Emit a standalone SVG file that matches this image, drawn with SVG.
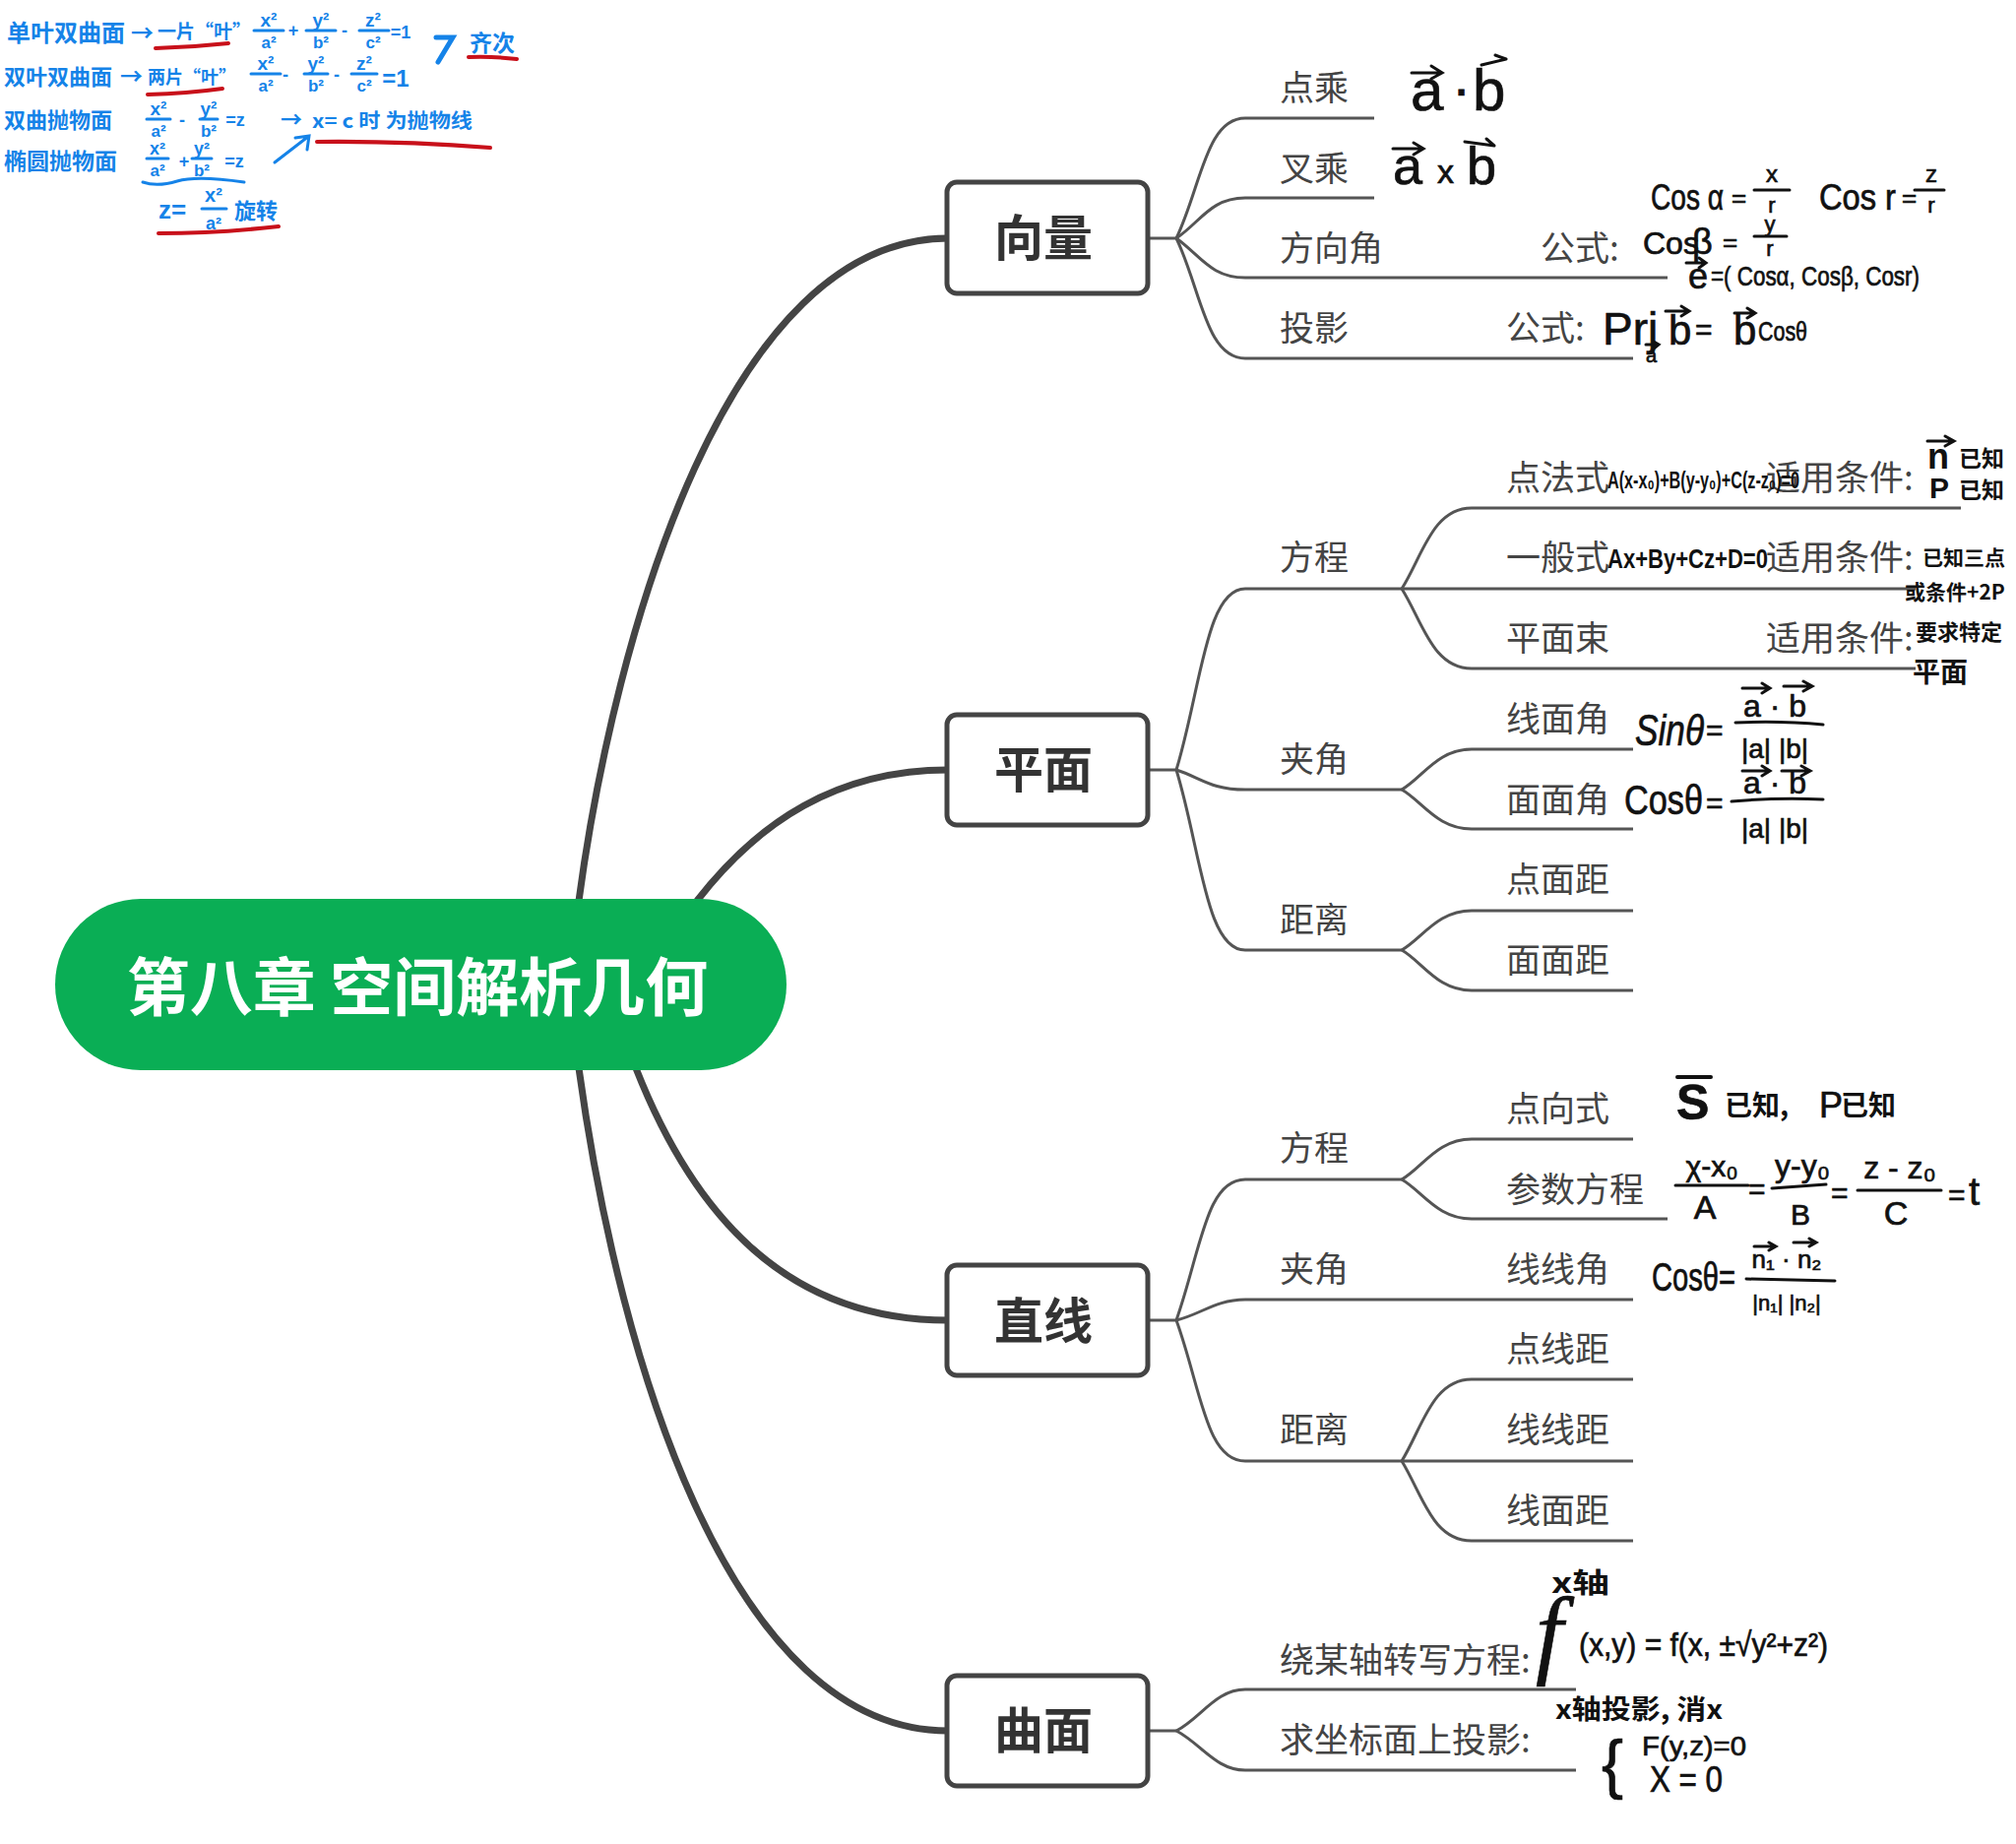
<svg xmlns="http://www.w3.org/2000/svg" width="2048" height="1873" viewBox="0 0 2048 1873">
<style>
text{font-family:"Noto Sans CJK SC","Liberation Sans",sans-serif}
.lb{font-size:35px;fill:#444}
.ttl{font-size:50px;font-weight:700;fill:#333;text-anchor:middle}
.box{fill:#fff;stroke:#444;stroke-width:5}
.main{fill:none;stroke:#444;stroke-width:7}
.sub{fill:none;stroke:#555;stroke-width:3}
.b{fill:#1583e8;font-weight:700}
.k{fill:#111;font-weight:700}
.m{font-family:"Liberation Sans",sans-serif;fill:#111;stroke:#111;stroke-width:.7}
.bm{font-family:"Liberation Sans",sans-serif;fill:#1583e8;font-weight:700;text-anchor:middle}
.km{font-family:"Liberation Sans",sans-serif;fill:#111;stroke:#111;stroke-width:.7;text-anchor:middle}
.bar{stroke:#111;stroke-width:3;fill:none;stroke-linecap:round}
.bbar{stroke:#1583e8;stroke-width:3;fill:none;stroke-linecap:round}
.red{stroke:#c8101a;stroke-width:4;fill:none;stroke-linecap:round}
</style>

<g id="connectors">
<path class="main" d="M588,915C625,640 740,242 963,242"/>
<path class="main" d="M708,915C770,835 850,782 963,782"/>
<path class="main" d="M646,1085C705,1235 800,1341 963,1341"/>
<path class="main" d="M588,1085C630,1390 745,1758 963,1758"/>

<path class="sub" d="M1168,242H1195"/>
<path class="sub" d="M1195,242C1220,190 1225,120 1265,120H1396"/>
<path class="sub" d="M1195,242C1220,225 1230,201 1265,201H1396"/>
<path class="sub" d="M1195,242C1220,260 1230,282 1265,282H1694"/>
<path class="sub" d="M1195,242C1220,294 1225,364 1265,364H1659"/>

<path class="sub" d="M1168,782H1195"/>
<path class="sub" d="M1195,782C1220,700 1225,598 1265,598H1424"/>
<path class="sub" d="M1195,782C1220,790 1230,802 1265,802H1424"/>
<path class="sub" d="M1195,782C1220,864 1225,965 1265,965H1424"/>
<path class="sub" d="M1424,598C1445,565 1455,516 1495,516H1992"/>
<path class="sub" d="M1424,598H1946"/>
<path class="sub" d="M1424,598C1445,631 1455,679 1495,679H1946"/>
<path class="sub" d="M1424,802C1445,790 1460,761 1495,761H1659"/>
<path class="sub" d="M1424,802C1445,814 1460,842 1495,842H1659"/>
<path class="sub" d="M1424,965C1445,953 1460,925 1495,925H1659"/>
<path class="sub" d="M1424,965C1445,977 1460,1006 1495,1006H1659"/>

<path class="sub" d="M1168,1341H1195"/>
<path class="sub" d="M1195,1341C1220,1270 1225,1198 1265,1198H1424"/>
<path class="sub" d="M1195,1341C1220,1335 1235,1320 1265,1320H1659"/>
<path class="sub" d="M1195,1341C1220,1410 1225,1484 1265,1484H1424"/>
<path class="sub" d="M1424,1198C1445,1186 1460,1157 1495,1157H1659"/>
<path class="sub" d="M1424,1198C1445,1210 1460,1238 1495,1238H1694"/>
<path class="sub" d="M1424,1484C1445,1450 1455,1401 1495,1401H1659"/>
<path class="sub" d="M1424,1484H1659"/>
<path class="sub" d="M1424,1484C1445,1518 1455,1565 1495,1565H1659"/>

<path class="sub" d="M1168,1758H1195"/>
<path class="sub" d="M1195,1758C1220,1745 1235,1716 1265,1716H1601"/>
<path class="sub" d="M1195,1758C1220,1771 1235,1798 1265,1798H1601"/>
</g>

<g id="root"><rect x="56" y="913" width="743" height="174" rx="87" fill="#0aae55"/><text x="424" y="1026" font-size="64" font-weight="700" fill="#fff" text-anchor="middle">第八章 空间解析几何</text></g>
<g id="n-xiangliang"><rect class="box" x="962" y="185" width="204" height="113" rx="10"/><text class="ttl" x="1060" y="260">向量</text></g>
<g id="n-pingmian"><rect class="box" x="962" y="726" width="204" height="112" rx="10"/><text class="ttl" x="1060" y="800">平面</text></g>
<g id="n-zhixian"><rect class="box" x="962" y="1285" width="204" height="112" rx="10"/><text class="ttl" x="1060" y="1360">直线</text></g>
<g id="n-qumian"><rect class="box" x="962" y="1702" width="204" height="112" rx="10"/><text class="ttl" x="1060" y="1776">曲面</text></g>

<g id="labels">
<text class="lb" x="1300" y="102">点乘</text>
<text class="lb" x="1300" y="184">叉乘</text>
<text class="lb" x="1300" y="265">方向角</text>
<text class="lb" x="1565" y="265">公式:</text>
<text class="lb" x="1300" y="346">投影</text>
<text class="lb" x="1530" y="346">公式:</text>
<text class="lb" x="1300" y="579">方程</text>
<text class="lb" x="1530" y="498">点法式</text>
<text class="lb" x="1794" y="498">适用条件:</text>
<text class="lb" x="1530" y="579">一般式</text>
<text class="lb" x="1794" y="579">适用条件:</text>
<text class="lb" x="1530" y="661">平面束</text>
<text class="lb" x="1794" y="661">适用条件:</text>
<text class="lb" x="1300" y="784">夹角</text>
<text class="lb" x="1530" y="743">线面角</text>
<text class="lb" x="1530" y="825">面面角</text>
<text class="lb" x="1300" y="947">距离</text>
<text class="lb" x="1530" y="906">点面距</text>
<text class="lb" x="1530" y="988">面面距</text>
<text class="lb" x="1300" y="1179">方程</text>
<text class="lb" x="1530" y="1139">点向式</text>
<text class="lb" x="1530" y="1221">参数方程</text>
<text class="lb" x="1300" y="1302">夹角</text>
<text class="lb" x="1530" y="1302">线线角</text>
<text class="lb" x="1300" y="1465">距离</text>
<text class="lb" x="1530" y="1383">点线距</text>
<text class="lb" x="1530" y="1465">线线距</text>
<text class="lb" x="1530" y="1547">线面距</text>
<text class="lb" x="1300" y="1699">绕某轴转写方程:</text>
<text class="lb" x="1300" y="1780">求坐标面上投影:</text>
</g>

<g id="notes-blue">
<text class="b" x="7" y="42" font-size="24">单叶双曲面</text>
<text class="b" x="133" y="42" font-size="23">→</text>
<text class="b" x="160" y="39" font-size="19">一片“叶”</text>
<path class="red" d="M158,49Q195,48 232,44"/>
<text class="bm" x="273" y="27" font-size="19">x²</text><path class="bbar" d="M258,31H288"/><text class="bm" x="273" y="49" font-size="17">a²</text>
<text class="bm" x="298" y="37" font-size="18">+</text>
<text class="bm" x="326" y="27" font-size="19">y²</text><path class="bbar" d="M311,31H341"/><text class="bm" x="326" y="49" font-size="17">b²</text>
<text class="bm" x="350" y="37" font-size="18">-</text>
<text class="bm" x="379" y="27" font-size="19">z²</text><path class="bbar" d="M365,31H395"/><text class="bm" x="379" y="49" font-size="17">c²</text>
<text class="bm" x="407" y="39" font-size="18">=1</text>

<text class="b" x="4" y="86" font-size="22">双叶双曲面</text>
<text class="b" x="122" y="86" font-size="23">→</text>
<text class="b" x="150" y="85" font-size="18">两片“叶”</text>
<path class="red" d="M150,96Q190,95 226,90"/>
<text class="bm" x="270" y="71" font-size="19">x²</text><path class="bbar" d="M255,75H285"/><text class="bm" x="270" y="93" font-size="17">a²</text>
<text class="bm" x="290" y="82" font-size="18">-</text>
<text class="bm" x="321" y="71" font-size="19">y²</text><path class="bbar" d="M309,75H333"/><text class="bm" x="321" y="93" font-size="17">b²</text>
<text class="bm" x="342" y="82" font-size="18">-</text>
<text class="bm" x="370" y="71" font-size="19">z²</text><path class="bbar" d="M357,75H383"/><text class="bm" x="370" y="93" font-size="17">c²</text>
<text class="bm" x="402" y="88" font-size="24">=1</text>

<path d="M443,38H460L445,63" fill="none" stroke="#1583e8" stroke-width="5" stroke-linecap="round"/>
<text class="b" x="477" y="52" font-size="23">齐次</text>
<path class="red" d="M476,58Q500,57 525,60"/>

<text class="b" x="4" y="130" font-size="22">双曲抛物面</text>
<text class="bm" x="161" y="117" font-size="19">x²</text><path class="bbar" d="M149,121H173"/><text class="bm" x="161" y="139" font-size="17">a²</text>
<text class="bm" x="185" y="128" font-size="18">-</text>
<text class="bm" x="212" y="117" font-size="19">y²</text><path class="bbar" d="M203,121H221"/><text class="bm" x="212" y="139" font-size="17">b²</text>
<text class="bm" x="239" y="128" font-size="18">=z</text>
<text class="b" x="285" y="129" font-size="22">→</text>
<text class="b" x="317" y="130" font-size="20" textLength="163" lengthAdjust="spacingAndGlyphs">x= c 时 为抛物线</text>
<path class="red" d="M322,144Q410,143 498,150"/>

<text class="b" x="4" y="172" font-size="23">椭圆抛物面</text>
<text class="bm" x="160" y="157" font-size="18">x²</text><path class="bbar" d="M149,161H171"/><text class="bm" x="160" y="179" font-size="17">a²</text>
<text class="bm" x="187" y="170" font-size="18">+</text>
<text class="bm" x="205" y="157" font-size="18">y²</text><path class="bbar" d="M195,161H215"/><text class="bm" x="205" y="179" font-size="17">b²</text>
<text class="bm" x="238" y="170" font-size="18">=z</text>
<path class="bbar" d="M145,185Q160,190 180,184T248,185"/>
<path class="bbar" d="M279,165L314,138M300,140L314,138L312,152"/>

<text class="bm" x="175" y="222" font-size="26">z=</text>
<text class="bm" x="217" y="205" font-size="20">x²</text><path class="bbar" d="M205,212H230"/><text class="bm" x="217" y="233" font-size="18">a²</text>
<text class="b" x="238" y="222" font-size="22">旋转</text>
<path class="red" d="M161,237Q220,237 283,230"/>
</g>

<g id="notes-vector">
<text class="m" x="1433" y="112" font-size="60">a</text>
<text class="m" x="1479" y="108" font-size="40" font-weight="700">·</text>
<text class="m" x="1496" y="112" font-size="60">b</text>
<path class="bar" d="M1434,74H1464M1454,67L1465,74L1454,80M1505,66L1530,60M1519,56L1530,60"/>
<text class="m" x="1415" y="187" font-size="54">a</text>
<text class="m" x="1460" y="186" font-size="34">x</text>
<text class="m" x="1490" y="187" font-size="54">b</text>
<path class="bar" d="M1415,151H1445M1436,145L1446,151L1436,157M1488,144L1518,148M1510,141L1518,148"/>

<text class="m" x="1677" y="213" font-size="36" textLength="74" lengthAdjust="spacingAndGlyphs">Cos α</text>
<text class="m" x="1759" y="210" font-size="26">=</text>
<text class="km" x="1800" y="185" font-size="24">x</text><path class="bar" d="M1782,193H1818"/><text class="km" x="1800" y="216" font-size="22">r</text>
<text class="m" x="1848" y="213" font-size="36" textLength="78" lengthAdjust="spacingAndGlyphs">Cos r</text>
<text class="m" x="1932" y="210" font-size="26">=</text>
<text class="km" x="1962" y="185" font-size="24">z</text><path class="bar" d="M1945,193H1975"/><text class="km" x="1962" y="216" font-size="22">r</text>

<text class="m" x="1669" y="258" font-size="32">Cos</text>
<text class="m" x="1719" y="258" font-size="36">β</text>
<text class="m" x="1750" y="255" font-size="26">=</text>
<text class="km" x="1798" y="235" font-size="22">y</text><path class="bar" d="M1782,240H1815"/><text class="km" x="1798" y="260" font-size="22">r</text>

<text class="m" x="1715" y="293" font-size="36">e</text>
<path class="bar" d="M1713,267H1732M1726,262L1733,267L1726,272"/>
<text class="m" x="1738" y="290" font-size="28" textLength="212" lengthAdjust="spacingAndGlyphs">=( Cosα, Cosβ, Cosr)</text>

<text class="m" x="1628" y="350" font-size="46">Prj</text>
<text class="m" x="1672" y="368" font-size="20">a</text>
<path class="bar" d="M1672,350H1684M1680,347L1685,350L1680,354"/>
<text class="m" x="1695" y="350" font-size="42">b</text>
<path class="bar" d="M1692,316H1715M1708,311L1716,316L1708,321"/>
<text class="m" x="1722" y="345" font-size="30">=</text>
<text class="m" x="1761" y="350" font-size="42">b</text>
<path class="bar" d="M1762,318H1782M1775,313L1783,318L1775,323"/>
<text class="m" x="1786" y="346" font-size="28" textLength="50" lengthAdjust="spacingAndGlyphs">Cosθ</text>
</g>

<g id="notes-plane">
<text class="k" x="1633" y="496" font-size="24" textLength="195" lengthAdjust="spacingAndGlyphs" style="font-family:'Liberation Sans',sans-serif">A(x-x₀)+B(y-y₀)+C(z-z₀)=0</text>
<text class="k" x="1958" y="476" font-size="36" style="font-family:'Liberation Sans',sans-serif">n</text>
<path class="bar" d="M1958,448H1984M1976,443L1985,448L1976,453"/>
<text class="k" x="1990" y="474" font-size="23">已知</text>
<text class="k" x="1960" y="506" font-size="30" style="font-family:'Liberation Sans',sans-serif">P</text>
<text class="k" x="1990" y="506" font-size="23">已知</text>

<text class="k" x="1633" y="577" font-size="28" textLength="163" lengthAdjust="spacingAndGlyphs" style="font-family:'Liberation Sans',sans-serif">Ax+By+Cz+D=0</text>
<text class="k" x="1953" y="574" font-size="21">已知三点</text>
<text class="k" x="1935" y="609" font-size="21">或条件+2P</text>
<text class="k" x="1946" y="650" font-size="22">要求特定</text>
<text class="k" x="1943" y="693" font-size="28">平面</text>

<text class="m" x="1661" y="757" font-size="44" font-style="italic" textLength="70" lengthAdjust="spacingAndGlyphs">Sinθ</text>
<text class="m" x="1733" y="752" font-size="30">=</text>
<text class="km" x="1803" y="728" font-size="32">a · b</text>
<path class="bar" d="M1763,734Q1810,732 1852,736"/>
<path class="bar" d="M1770,699H1797M1790,694L1798,699L1790,704M1812,697H1840M1832,692L1841,697L1832,702"/>
<text class="km" x="1803" y="770" font-size="28">|a| |b|</text>

<text class="m" x="1650" y="827" font-size="42" textLength="80" lengthAdjust="spacingAndGlyphs">Cosθ</text>
<text class="m" x="1733" y="826" font-size="30">=</text>
<text class="km" x="1803" y="806" font-size="32">a · b</text>
<path class="bar" d="M1759,814Q1805,810 1852,812"/>
<path class="bar" d="M1770,783H1797M1790,778L1798,783L1790,788M1810,783H1838M1830,778L1839,783L1830,788"/>
<text class="km" x="1803" y="851" font-size="28">|a| |b|</text>
</g>

<g id="notes-line">
<text class="m" x="1703" y="1137" font-size="50" font-weight="700">S</text>
<path d="M1704,1094H1738" stroke="#111" stroke-width="4" stroke-linecap="round" fill="none"/>
<text class="k" x="1752" y="1133" font-size="28">已知,</text>
<text class="m" x="1848" y="1135" font-size="36">P</text>
<text class="k" x="1870" y="1133" font-size="28">已知</text>

<text class="km" x="1739" y="1195" font-size="30">χ-x₀</text><path class="bar" d="M1702,1204H1776"/><text class="km" x="1732" y="1238" font-size="34">A</text>
<text class="m" x="1776" y="1218" font-size="30">=</text>
<text class="km" x="1831" y="1195" font-size="32">y-y₀</text><path class="bar" d="M1800,1207L1855,1203"/><text class="km" x="1829" y="1244" font-size="30">B</text>
<text class="m" x="1860" y="1222" font-size="30">=</text>
<text class="km" x="1930" y="1197" font-size="32">z - z₀</text><path class="bar" d="M1887,1209H1972"/><text class="km" x="1926" y="1244" font-size="34">C</text>
<text class="m" x="1979" y="1224" font-size="30">=</text>
<text class="m" x="2000" y="1224" font-size="40">t</text>

<text class="m" x="1678" y="1311" font-size="40" textLength="85" lengthAdjust="spacingAndGlyphs">Cosθ=</text>
<text class="km" x="1815" y="1288" font-size="26">n₁ · n₂</text><path class="bar" d="M1774,1299L1864,1301"/>
<path class="bar" d="M1782,1266H1803M1797,1262L1804,1266L1797,1270M1822,1262H1844M1838,1258L1845,1262L1838,1266"/>
<text class="km" x="1815" y="1331" font-size="22">|n₁| |n₂|</text>
</g>

<g id="notes-surface">
<text class="k" x="1576" y="1618" font-size="28" textLength="59" lengthAdjust="spacingAndGlyphs">x轴</text>
<text class="m" x="1560" y="1692" font-size="100" font-style="italic" style="font-family:'Liberation Serif',serif">f</text>
<text class="m" x="1604" y="1682" font-size="34" textLength="253" lengthAdjust="spacingAndGlyphs">(x,y) = f(x, ±√y²+z²)</text>
<text class="k" x="1580" y="1746" font-size="27" textLength="170" lengthAdjust="spacingAndGlyphs">x轴投影, 消x</text>
<text class="m" x="1627" y="1814" font-size="66">{</text>
<text class="m" x="1668" y="1783" font-size="28" textLength="106" lengthAdjust="spacingAndGlyphs">F(y,z)=0</text>
<text class="m" x="1676" y="1820" font-size="36" textLength="74" lengthAdjust="spacingAndGlyphs">X = 0</text>
</g>
</svg>
